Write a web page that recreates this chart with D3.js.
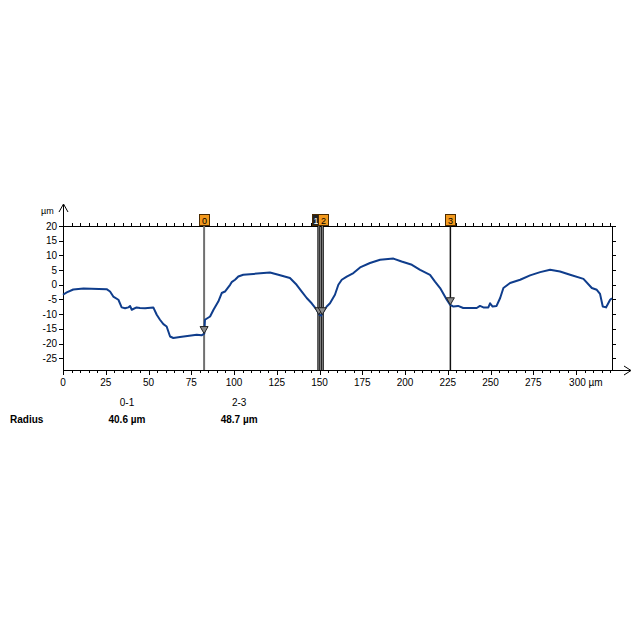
<!DOCTYPE html>
<html><head><meta charset="utf-8">
<script src="https://cdn.jsdelivr.net/npm/d3@7"></script>
<style>body{margin:0;background:#fff}svg{display:block}text{font-family:"Liberation Sans",Arial,sans-serif}</style>
</head><body><svg id="c" width="635" height="635"></svg>
<script>
// profile x positions (µm)
const profileX = [0,2.2,6,12,25.5,27.5,29.4,32.4,34.3,36.3,38.2,39.2,40.2,43,45,48,52.8,54.8,56.7,58.7,60.6,62.6,64.5,68.4,78.2,81,82.6,83,86,88,90.8,92.8,94.7,97.7,98.6,100.6,102.5,105.4,111.3,121,125.9,132.7,136.6,139.6,142.5,145.4,148.4,149.9,151,152.2,154.2,156.1,159,161,163,165.9,169.8,173.7,179.5,185.4,193.2,198,204,208.8,214.6,217.5,220.5,224.4,226.3,228.3,231,234,241.9,243.8,245.8,248.7,249.7,251.2,253.5,255.6,257.5,261.4,267.3,273.1,279,284.8,290.6,296.5,304.3,309.2,312.1,314,315.6,317.5,319.9,321];
// profile heights (µm)
const profileY = [-3.4,-2.6,-1.6,-1.3,-1.5,-2.3,-4,-5.1,-7.7,-8,-7.7,-7.2,-8.5,-7.7,-7.9,-8,-7.7,-10.2,-11.9,-13.4,-14.2,-17.6,-18.1,-17.8,-17,-17.2,-16.6,-11.9,-10.8,-8.5,-5.7,-2.8,-2.3,0,0.9,1.7,2.8,3.4,3.7,4.2,3.4,2.3,0,-2.3,-4.5,-6.3,-8.5,-10.2,-10.5,-9.1,-7.4,-6.3,-3.4,0,1.7,2.8,4,5.9,7.4,8.5,8.9,7.9,6.8,5.1,3.4,1.1,-1.1,-5.1,-6.8,-7.4,-7.2,-7.9,-7.9,-7.2,-7.7,-7.7,-6.3,-7.4,-7.2,-4.5,-1.1,0.6,1.7,3.2,4.3,5.1,4.5,3.4,2.0,-1.1,-1.7,-3.1,-7.4,-7.7,-5.1,-4.6];
// cursors
const cursorLabels = ["0","1","2","3"];
const cursorX = [82.5,149.6,151.6,226.5];
const cursorY = [-16.6,-10.2,-10.2,-6.8];
// axis ticks
const xTicks = [0,25,50,75,100,125,150,175,200,225,250,275,300];
const xTickLabels = ["0","25","50","75","100","125","150","175","200","225","250","275","300 µm"];
const yTicks = [20,15,10,5,0,-5,-10,-15,-20,-25];
// results table
const resultPairs = ["0-1","2-3"];
const resultPos = [37.4,103];
const resultValues = ["40.6 µm","48.7 µm"];

const svg = d3.select("#c");
const L=63,R=612,T=226,B=370;
const x = d3.scaleLinear().domain([0,321]).range([L,R]);
const y = d3.scaleLinear().domain([-29,20]).range([B,T]);

const minor = d3.range(0,321,5);
const g = svg.append("g").attr("stroke","#000").attr("stroke-width",1);
g.append("line").attr("x1",R+0.5).attr("x2",R+0.5).attr("y1",T).attr("y2",B);
g.append("line").attr("x1",L).attr("x2",R).attr("y1",T+0.5).attr("y2",T+0.5);
minor.forEach(v=>{g.append("line").attr("x1",Math.round(x(v))+0.5).attr("x2",Math.round(x(v))+0.5).attr("y1",T).attr("y2",T-3);});
g.append("line").attr("x1",L).attr("x2",630).attr("y1",B+0.5).attr("y2",B+0.5);
svg.append("path").attr("d",`M624,${B-4} L631,${B+0.5} L624,${B+5}`).attr("fill","none").attr("stroke","#000");
minor.forEach(v=>{const maj=v%25===0;g.append("line").attr("x1",Math.round(x(v))+0.5).attr("x2",Math.round(x(v))+0.5).attr("y1",B).attr("y2",B+(maj?5:3));});
g.append("line").attr("x1",L+0.5).attr("x2",L+0.5).attr("y1",B).attr("y2",205);
svg.append("path").attr("d",`M${L-4},212 L${L+0.5},204 L${L+5},212`).attr("fill","none").attr("stroke","#000");
yTicks.forEach(v=>{const py=Math.round(y(v))+0.5;
  g.append("line").attr("x1",L-4).attr("x2",L).attr("y1",py).attr("y2",py);
  g.append("line").attr("x1",R).attr("x2",R+4).attr("y1",py).attr("y2",py);
});
svg.append("g").selectAll("text").data(yTicks).join("text")
  .attr("x",L-6).attr("y",d=>y(d)+3.5).attr("text-anchor","end").attr("font-size",10).text(d=>d);
svg.append("g").selectAll("text").data(xTicks).join("text")
  .attr("x",(d,i)=>i===xTicks.length-1?x(d)-7:x(d)).attr("y",B+16).attr("text-anchor",(d,i)=>i===xTicks.length-1?"start":"middle")
  .attr("font-size",10).text((d,i)=>xTickLabels[i]);
svg.append("text").attr("x",41).attr("y",214).attr("font-size",9).text("µm");

const cStyles=[{w:2,c:"#707070"},{w:3,c:"#000",inner:true},{w:3,c:"#000",inner:true},{w:1.5,c:"#111"}];
cursorX.forEach((cx,i)=>{const px=x(cx);const s=cStyles[i];
  svg.append("line").attr("x1",px).attr("x2",px).attr("y1",T).attr("y2",B).attr("stroke",s.c).attr("stroke-width",s.w);
  if(s.inner) svg.append("line").attr("x1",px).attr("x2",px).attr("y1",T).attr("y2",B).attr("stroke","#999").attr("stroke-width",1);
});

svg.append("path").datum(profileX.map((v,i)=>[v,profileY[i]]))
  .attr("d",d3.line().x(d=>x(d[0])).y(d=>y(d[1])))
  .attr("fill","none").attr("stroke","#0f3d8c").attr("stroke-width",2).attr("stroke-linejoin","round");

cursorX.forEach((cx,i)=>{const px=x(cx),py=y(cursorY[i]);
  svg.append("path").attr("d",`M${px-4},${py-7} L${px+4},${py-7} L${px},${py} Z`).attr("fill","#8c8c8c").attr("stroke","#222").attr("stroke-width",1);
});

cursorX.forEach((cx,i)=>{const px=Math.round(x(cx));
  const dark = i===1;
  const bx = i===1?px-7:(i===2?px-4:px-5);
  svg.append("rect").attr("x",bx+0.5).attr("y",214.5).attr("width",10).attr("height",11)
    .attr("fill",dark?"#222":"#f39a1e").attr("stroke","#4a2a00").attr("stroke-width",1);
  svg.append("text").attr("x",dark?bx+4:bx+5.5).attr("y",223.5).attr("text-anchor","middle").attr("font-size",9)
    .attr("fill",dark?"#fff":"#000").text(cursorLabels[i]);
});

svg.append("text").attr("x",10).attr("y",423).attr("font-size",10).attr("font-weight","bold").text("Radius");
resultPairs.forEach((p,i)=>{
  svg.append("text").attr("x",x(resultPos[i])).attr("y",406).attr("text-anchor","middle").attr("font-size",10).text(p);
});
resultValues.forEach((v,i)=>{
  svg.append("text").attr("x",x(resultPos[i])).attr("y",423).attr("text-anchor","middle").attr("font-size",10).attr("font-weight","bold").text(v);
});
</script></body></html>
